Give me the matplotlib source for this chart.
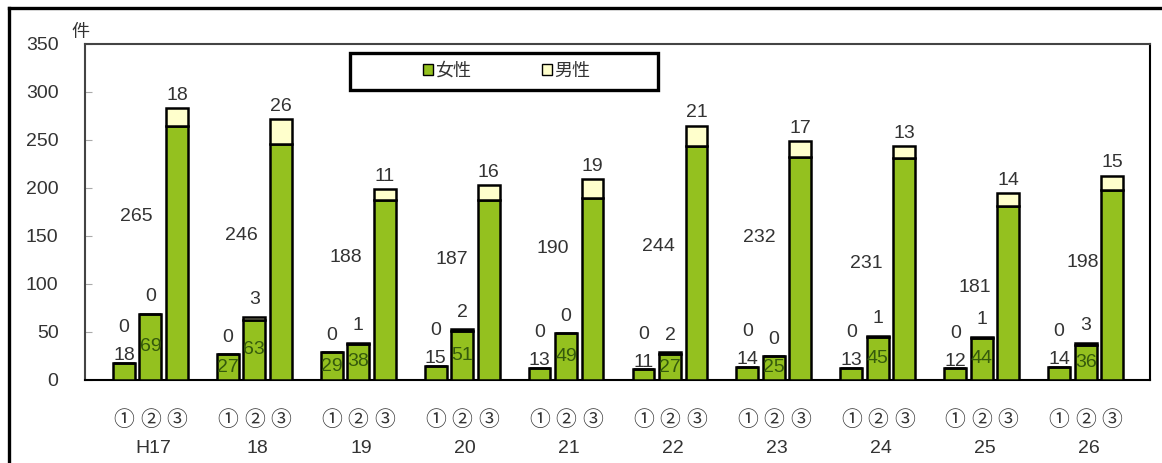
import numpy as np
import matplotlib
matplotlib.use('Agg')
import matplotlib.pyplot as plt
from matplotlib.patches import Patch, Rectangle
from matplotlib.lines import Line2D

plt.rcParams['font.family'] = ['Liberation Sans', 'Noto Sans CJK JP', 'DejaVu Sans']

# data
years = ['H17', '18', '19', '20', '21', '22', '23', '24', '25', '26']
bar_marks = ['①', '②', '③']
women_1 = [18, 27, 29, 15, 13, 11, 14, 13, 12, 14]
men_1 = [0, 0, 0, 0, 0, 0, 0, 0, 0, 0]
women_2 = [69, 63, 38, 51, 49, 27, 25, 45, 44, 36]
men_2 = [0, 3, 1, 2, 0, 2, 0, 1, 1, 3]
women_3 = [265, 246, 188, 187, 190, 244, 232, 231, 181, 198]
men_3 = [18, 26, 11, 16, 19, 21, 17, 13, 14, 15]

# where the hand-placed labels of bar ③ sit
label3_y = [170, 151, 128, 125, 137, 139, 148, 121, 96, 122]
label3_dx = [-0.14, -0.12, -0.12, -0.10, -0.13, -0.11, -0.14, -0.11, -0.07, -0.03]

green = '#94c11f'
cream = '#ffffcc'
txt = '#333333'
dark_green = '#355a0c'

fig = plt.figure(figsize=(11.62, 4.63), dpi=100)
ax = fig.add_axes([0.0731, 0.1793, 0.9166, 0.7257])

x = np.arange(len(years))
w = 0.21
step = 0.255

women = [women_1, women_2, women_3]
men = [men_1, men_2, men_3]
for k in range(3):
    pos = x + (k - 1) * step
    ax.bar(pos, women[k], w, color=green, edgecolor='black', linewidth=1.8, zorder=3)
    ax.bar(pos, men[k], w, bottom=women[k], color=cream, edgecolor='black', linewidth=1.8, zorder=3)

fs = 14
for i in range(len(years)):
    # bar 1
    p = x[i] - step
    top = women_1[i] + men_1[i]
    if women_1[i] >= 20:
        ax.text(p, women_1[i] / 2, str(women_1[i]), ha='center', va='center',
                fontsize=fs, color=dark_green, zorder=4)
        off = 6
    else:
        ax.annotate(str(women_1[i]), (p, top), xytext=(0, -1), textcoords='offset points',
                    ha='center', va='bottom', fontsize=fs, color=txt, zorder=4)
        off = 19
    ax.annotate(str(men_1[i]), (p, top), xytext=(0, off), textcoords='offset points',
                ha='center', va='bottom', fontsize=fs, color=txt, zorder=4)
    # bar 2
    p = x[i]
    top = women_2[i] + men_2[i]
    ax.text(p, women_2[i] / 2, str(women_2[i]), ha='center', va='center',
            fontsize=fs, color=dark_green, zorder=4)
    ax.annotate(str(men_2[i]), (p, top), xytext=(0, 6), textcoords='offset points',
                ha='center', va='bottom', fontsize=fs, color=txt, zorder=4)
    # bar 3
    p = x[i] + step
    top = women_3[i] + men_3[i]
    ax.text(x[i] + label3_dx[i], label3_y[i], str(women_3[i]), ha='center', va='center',
            fontsize=fs, color=txt, zorder=4)
    ax.annotate(str(men_3[i]), (p, top), xytext=(0, 3), textcoords='offset points',
                ha='center', va='bottom', fontsize=fs, color=txt, zorder=4)

    # category labels under the axis
    for k in range(3):
        ax.text(x[i] + (k - 1) * step, -0.12, bar_marks[k], transform=ax.get_xaxis_transform(),
                ha='center', va='center', fontsize=15, color=txt)
    ax.text(x[i] + 0.03, -0.205, years[i], transform=ax.get_xaxis_transform(),
            ha='center', va='center', fontsize=fs, color=txt)

ax.set_xlim(-0.63, 9.62)
ax.set_ylim(0, 350)
ax.set_yticks(np.arange(0, 351, 50))
ax.set_xticks([])
ax.tick_params(axis='y', direction='in', length=5, color='#aaaaaa', labelsize=fs,
               labelcolor=txt, pad=19)

for s in ['left', 'top']:
    ax.spines[s].set_color('#444444')
    ax.spines[s].set_linewidth(1.5)
for s in ['bottom', 'right']:
    ax.spines[s].set_color('black')
    ax.spines[s].set_linewidth(1.5)

ax.text(-0.004, 1.035, '件', transform=ax.transAxes, ha='center', va='center',
        fontsize=13, color=txt)

# legend
ax.add_patch(Rectangle((0.249, 0.863), 0.289, 0.110, transform=ax.transAxes,
                       facecolor='white', edgecolor='black', linewidth=2.4, zorder=5))
handles = [Patch(facecolor=green, edgecolor='black', linewidth=1),
           Patch(facecolor=cream, edgecolor='black', linewidth=1)]
leg = ax.legend(handles, ['女性', '男性'], loc='center', bbox_to_anchor=(0.396, 0.918),
                ncol=2, frameon=False, fontsize=13, handlelength=0.55, handleheight=0.55,
                handletextpad=0.15, columnspacing=3.9)
leg.set_zorder(6)
for t in leg.get_texts():
    t.set_color(txt)

# outer frame of the picture
fig.add_artist(Line2D([0.0077, 0.0077], [0, 0.9827], transform=fig.transFigure,
                      color='black', linewidth=2.4))
fig.add_artist(Line2D([0.0077, 1.0], [0.9827, 0.9827], transform=fig.transFigure,
                      color='black', linewidth=2.4))

fig.savefig('out.png', dpi=100)
